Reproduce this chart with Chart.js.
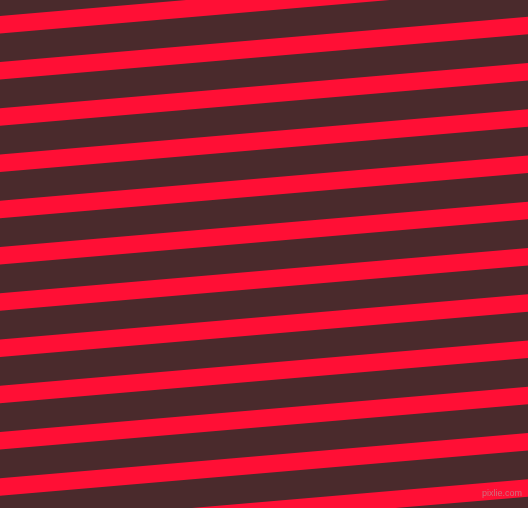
<!DOCTYPE html>
<html>
<head>
<meta charset="utf-8">
<script src="https://cdn.jsdelivr.net/npm/chart.js@4/dist/chart.umd.min.js"></script>
<style>
  html, body { margin: 0; padding: 0; background: #4a2a2c; overflow: hidden; }
  #wrap { position: relative; width: 528px; height: 508px; overflow: hidden; }
  #stripes { display: block; background: #4a2a2c; }
  #mark {
    position: absolute; right: 6px; top: 488px;
    font: 9px "Liberation Sans", Arial, sans-serif; line-height: 11px;
    white-space: nowrap;
    color: rgba(175, 175, 175, 0.6);
  }
</style>
</head>
<body>
<div id="wrap">
  <canvas id="stripes" width="528" height="508"></canvas>
  <div id="mark">pixlie.com</div>
</div>
<script>
// where each red stripe's centre line sits at the left and right edge (px from top)
const edgeX = [0, 528]
const stripeLeftY = [24.7, 70.8, 117.0, 163.2, 209.5, 255.8, 302.0, 348.2, 394.5, 440.7, 487.0, 533.2]
const stripeRightY = [-20.6, 25.5, 71.7, 117.9, 164.2, 210.5, 256.7, 302.9, 349.2, 395.4, 441.7, 487.9]

const stripeColor = '#ff0f35'
const stripeWidth = 17.4

const datasets = stripeLeftY.map((y, i) => ({
  data: [
    { x: edgeX[0], y: y },
    { x: edgeX[1], y: stripeRightY[i] }
  ],
  borderColor: stripeColor,
  borderWidth: stripeWidth,
  borderCapStyle: 'square',
  pointRadius: 0,
  tension: 0,
  fill: false
}))

const ctx = document.getElementById('stripes').getContext('2d')
new Chart(ctx, {
  type: 'line',
  data: { datasets: datasets },
  options: {
    responsive: false,
    devicePixelRatio: 1,
    animation: false,
    layout: { padding: 0 },
    scales: {
      x: { type: 'linear', min: 0, max: 528, display: false },
      y: { type: 'linear', min: 0, max: 508, reverse: true, display: false }
    },
    plugins: {
      legend: { display: false },
      tooltip: { enabled: false }
    }
  }
})
</script>
</body>
</html>
